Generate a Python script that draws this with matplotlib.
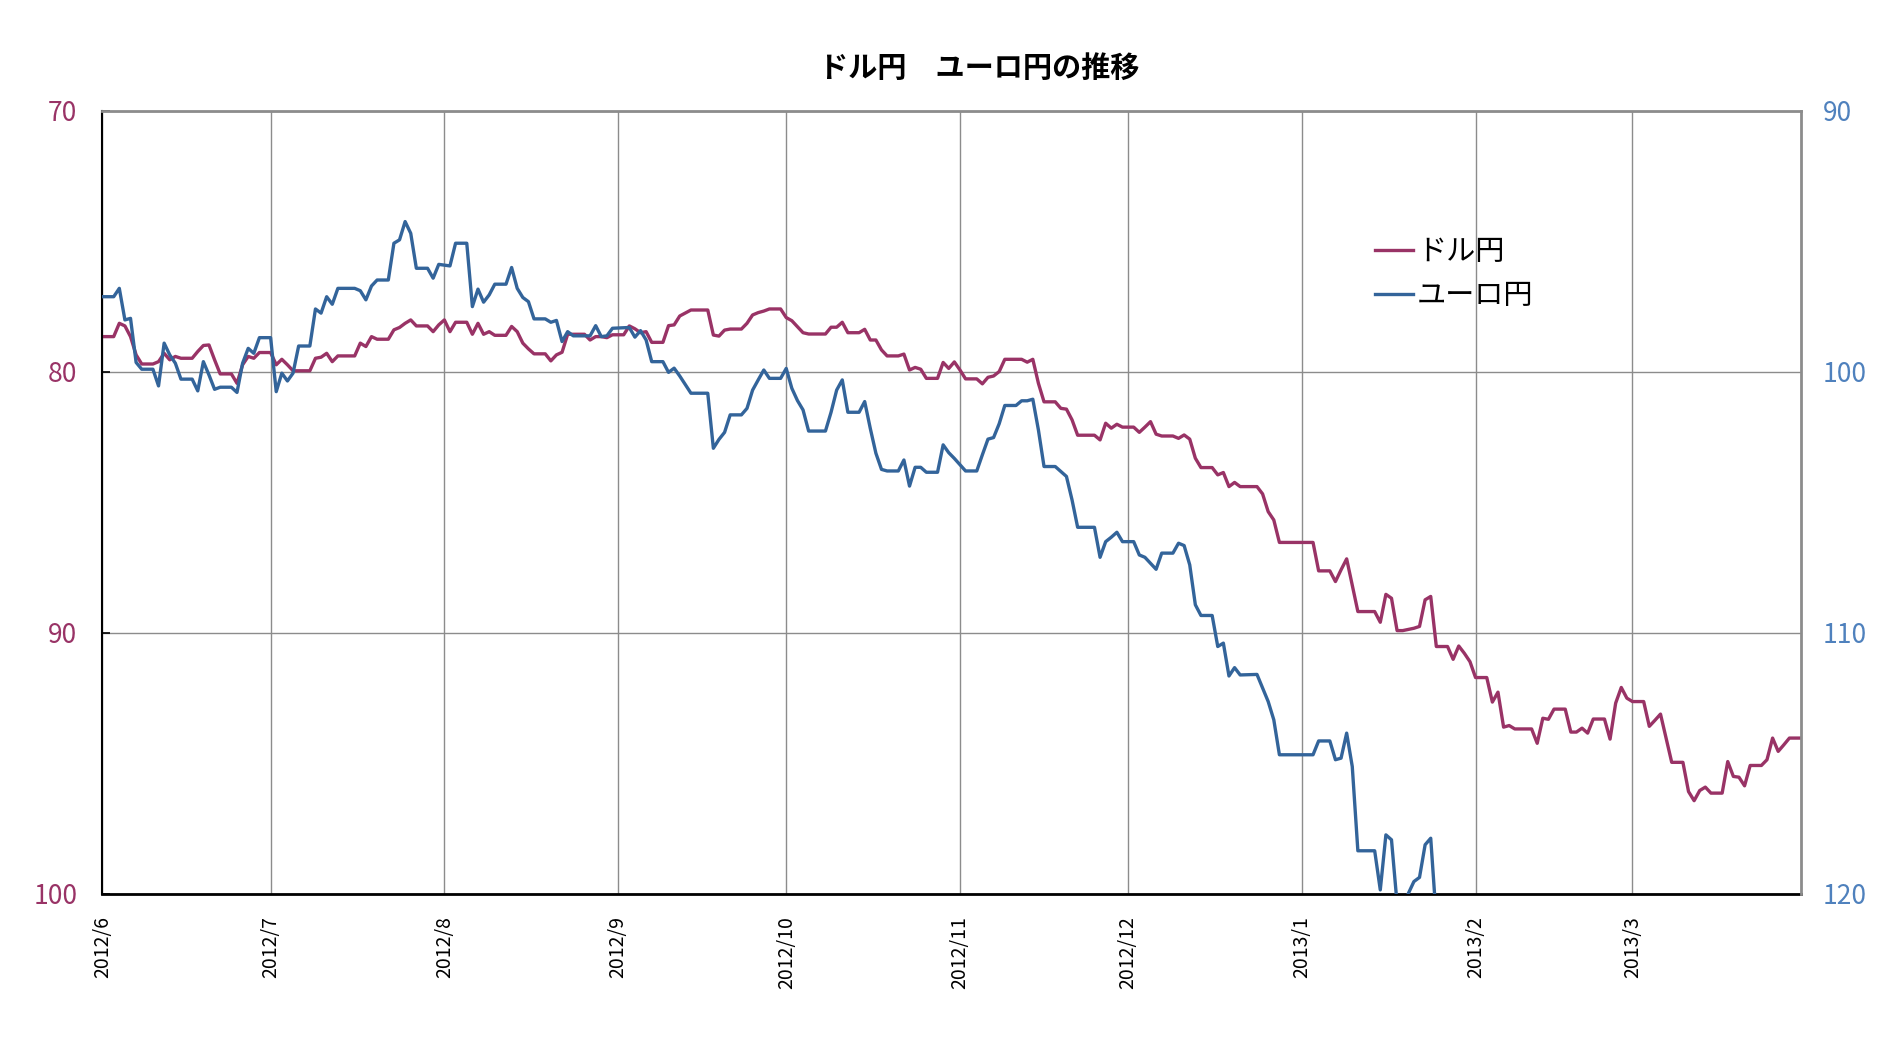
import numpy as np
import matplotlib
matplotlib.use('Agg')
import matplotlib.pyplot as plt

plt.rcParams['font.family'] = ['Noto Sans CJK JP', 'DejaVu Sans']

# --- data (days counted from 2012/6/1) ---
start = np.datetime64('2012-06-01')
end = np.datetime64('2013-03-31')

usd_day = [0, 2, 3, 4, 5, 6, 7, 9, 10, 11, 12, 13, 14, 16, 17, 18, 19, 20, 21, 23,
           24, 25, 26, 27, 28, 30, 31, 32, 33, 34, 37, 38, 39, 40, 41, 42, 45, 46, 47, 48,
           49, 51, 52, 53, 54, 55, 56, 58, 59, 60, 61, 62, 63, 65, 66, 67, 68, 69, 70, 72,
           73, 74, 75, 76, 77, 79, 80, 81, 82, 83, 86, 87, 88, 89, 90, 91, 93, 94, 95, 96,
           97, 98, 100, 101, 102, 103, 105, 108, 109, 110, 111, 112, 114, 115, 116, 117, 118, 119, 121, 122,
           123, 124, 125, 126, 129, 130, 131, 132, 133, 135, 136, 137, 138, 139, 140, 142, 143, 144, 145, 146,
           147, 149, 150, 151, 152, 153, 154, 156, 157, 158, 159, 160, 161, 164, 165, 166, 167, 168, 170, 171,
           172, 173, 174, 177, 178, 179, 180, 181, 182, 184, 185, 186, 187, 188, 189, 191, 192, 193, 194, 195,
           196, 198, 199, 200, 201, 202, 203, 206, 207, 208, 209, 210, 216, 217, 219, 220, 221, 222, 223, 224,
           227, 228, 229, 230, 231, 232, 234, 235, 236, 237, 238, 240, 241, 242, 243, 244, 245, 247, 248, 249,
           250, 251, 252, 255, 256, 257, 258, 259, 261, 262, 263, 264, 265, 266, 268, 269, 270, 271, 272, 273,
           275, 276, 277, 278, 279, 280, 282, 283, 284, 285, 286, 287, 289, 290, 291, 292, 293, 294, 296, 297,
           298, 299, 300, 301, 303]
usd_jpy = [78.65, 78.65, 78.14, 78.24, 78.65, 79.35, 79.70, 79.70, 79.61, 79.29, 79.54, 79.41, 79.48, 79.48, 79.22, 78.99, 78.97, 79.54, 80.08, 80.08,
           80.44, 79.73, 79.41, 79.48, 79.26, 79.26, 79.73, 79.52, 79.73, 79.96, 79.96, 79.48, 79.44, 79.29, 79.61, 79.39, 79.39, 78.90, 79.03, 78.65,
           78.75, 78.75, 78.39, 78.30, 78.14, 78.01, 78.24, 78.24, 78.46, 78.20, 78.01, 78.46, 78.10, 78.10, 78.56, 78.14, 78.56, 78.46, 78.60, 78.60,
           78.26, 78.46, 78.90, 79.12, 79.31, 79.31, 79.58, 79.35, 79.25, 78.56, 78.56, 78.78, 78.65, 78.65, 78.69, 78.58, 78.58, 78.24, 78.35, 78.50,
           78.46, 78.87, 78.87, 78.23, 78.20, 77.86, 77.63, 77.63, 78.59, 78.63, 78.40, 78.36, 78.36, 78.14, 77.82, 77.73, 77.67, 77.59, 77.59, 77.92,
           78.04, 78.27, 78.50, 78.55, 78.55, 78.29, 78.29, 78.10, 78.50, 78.50, 78.37, 78.78, 78.78, 79.16, 79.39, 79.39, 79.32, 79.93, 79.83, 79.90,
           80.25, 80.25, 79.64, 79.87, 79.62, 79.93, 80.27, 80.27, 80.46, 80.21, 80.16, 79.99, 79.52, 79.52, 79.63, 79.52, 80.44, 81.15, 81.15, 81.40,
           81.43, 81.84, 82.43, 82.43, 82.61, 81.97, 82.16, 82.01, 82.12, 82.12, 82.32, 82.12, 81.91, 82.39, 82.46, 82.46, 82.55, 82.42, 82.58, 83.31,
           83.67, 83.67, 83.95, 83.86, 84.40, 84.24, 84.40, 84.40, 84.68, 85.36, 85.68, 86.54, 86.54, 87.63, 87.63, 88.04, 87.59, 87.17, 88.17, 89.19,
           89.19, 89.60, 88.53, 88.68, 89.92, 89.92, 89.83, 89.76, 88.74, 88.61, 90.53, 90.53, 91.02, 90.51, 90.79, 91.11, 91.72, 91.72, 92.66, 92.28,
           93.62, 93.56, 93.69, 93.69, 94.24, 93.28, 93.32, 92.93, 92.93, 93.81, 93.81, 93.66, 93.85, 93.31, 93.31, 94.08, 92.70, 92.10, 92.51, 92.64,
           92.64, 93.59, 93.36, 93.12, 94.04, 94.97, 94.97, 96.09, 96.44, 96.05, 95.92, 96.15, 96.15, 94.94, 95.51, 95.54, 95.87, 95.09, 95.09, 94.87,
           94.04, 94.55, 94.30, 94.04, 94.04]

eur_day = [0, 2, 3, 4, 5, 6, 7, 9, 10, 11, 12, 13, 14, 16, 17, 18, 19, 20, 21, 23,
           24, 25, 26, 27, 28, 30, 31, 32, 33, 34, 35, 37, 38, 39, 40, 41, 42, 45, 46, 47,
           48, 49, 51, 52, 53, 54, 55, 56, 58, 59, 60, 62, 63, 65, 66, 67, 68, 69, 70, 72,
           73, 74, 75, 76, 77, 79, 80, 81, 82, 83, 84, 87, 88, 89, 90, 91, 94, 95, 96, 97,
           98, 100, 101, 102, 103, 105, 108, 109, 110, 111, 112, 114, 115, 116, 117, 118, 119, 121, 122, 123,
           124, 125, 126, 129, 130, 131, 132, 133, 135, 136, 137, 138, 139, 140, 142, 143, 144, 145, 146, 147,
           149, 150, 151, 152, 154, 156, 157, 158, 159, 160, 161, 163, 164, 165, 166, 167, 168, 170, 171, 172,
           173, 174, 177, 178, 179, 180, 181, 182, 184, 185, 186, 188, 189, 191, 192, 193, 194, 195, 196, 198,
           199, 200, 201, 202, 203, 206, 208, 209, 210, 216, 217, 219, 220, 221, 222, 223, 224, 227, 228, 229,
           230, 231, 232, 233, 234, 235, 236, 237, 238]
eur_jpy = [97.12, 97.12, 96.80, 98.01, 97.95, 99.64, 99.90, 99.90, 100.54, 98.90, 99.35, 99.67, 100.28, 100.28, 100.73, 99.61, 100.12, 100.67, 100.59, 100.59,
           100.79, 99.67, 99.10, 99.29, 98.69, 98.69, 100.76, 100.05, 100.35, 100.05, 99.01, 99.01, 97.59, 97.75, 97.12, 97.41, 96.80, 96.80, 96.89, 97.24,
           96.71, 96.48, 96.48, 95.07, 94.94, 94.24, 94.69, 96.03, 96.03, 96.41, 95.88, 95.94, 95.07, 95.07, 97.50, 96.83, 97.33, 97.05, 96.64, 96.64,
           96.00, 96.80, 97.15, 97.31, 97.97, 97.97, 98.10, 98.03, 98.84, 98.46, 98.62, 98.62, 98.23, 98.65, 98.62, 98.33, 98.30, 98.67, 98.42, 98.78,
           99.61, 99.61, 100.02, 99.86, 100.16, 100.82, 100.82, 102.93, 102.59, 102.32, 101.65, 101.65, 101.40, 100.70, 100.31, 99.93, 100.25, 100.25, 99.87, 100.63,
           101.10, 101.46, 102.27, 102.27, 101.55, 100.70, 100.31, 101.55, 101.55, 101.14, 102.17, 103.12, 103.74, 103.80, 103.80, 103.38, 104.38, 103.66, 103.66, 103.85,
           103.85, 102.80, 103.10, 103.32, 103.80, 103.80, 103.18, 102.58, 102.52, 101.99, 101.29, 101.29, 101.11, 101.11, 101.05, 102.23, 103.63, 103.63, 103.82, 104.01,
           104.91, 105.96, 105.96, 107.11, 106.51, 106.34, 106.15, 106.51, 106.51, 107.02, 107.11, 107.57, 106.95, 106.95, 106.57, 106.66, 107.40, 108.93, 109.34, 109.34,
           110.53, 110.40, 111.66, 111.34, 111.62, 111.60, 112.64, 113.34, 114.68, 114.68, 114.15, 114.15, 114.87, 114.81, 113.85, 115.13, 118.36, 118.36, 119.86, 117.75,
           117.94, 120.40, 120.50, 120.00, 119.54, 119.38, 118.13, 117.88, 121.00]

month_ticks = ['2012-06-01', '2012-07-01', '2012-08-01', '2012-09-01', '2012-10-01',
               '2012-11-01', '2012-12-01', '2013-01-01', '2013-02-01', '2013-03-01']
month_labels = ['2012/6', '2012/7', '2012/8', '2012/9', '2012/10',
                '2012/11', '2012/12', '2013/1', '2013/2', '2013/3']

RED = '#993366'
BLUE = '#33649A'
BLUE_LABEL = '#4F81BD'
GRID = '#8C8C8C'

usd_dates = start + np.array(usd_day)
eur_dates = start + np.array(eur_day)

fig = plt.figure(figsize=(18.91, 10.64), dpi=100)
ax = fig.add_axes([0.0542, 0.1602, 0.8980, 0.7355])
ax2 = ax.twinx()

l1, = ax.plot(usd_dates, usd_jpy, color=RED, lw=2.4, label='ドル円')
l2, = ax2.plot(eur_dates, eur_jpy, color=BLUE, lw=2.4, label='ユーロ円')

ax.set_xlim(start, end)
ax.set_ylim(100, 70)
ax2.set_ylim(120, 90)
ax.set_yticks([70, 80, 90, 100])
ax2.set_yticks([90, 100, 110, 120])
ax.set_xticks(np.array(month_ticks, dtype='datetime64[D]'))
ax.set_xticklabels(month_labels, rotation=90)

ax.grid(True, color=GRID, lw=1.0)

ax.tick_params(axis='y', direction='in', length=6, width=1.2, colors='black',
               labelcolor=RED, labelsize=19, pad=18)
ax.tick_params(axis='x', length=0, labelsize=14, pad=16)
ax2.tick_params(axis='y', length=0, labelcolor=BLUE_LABEL, labelsize=19, pad=16)

ax.spines['left'].set_color('black')
ax.spines['left'].set_linewidth(1.5)
ax.spines['bottom'].set_color('black')
ax.spines['bottom'].set_linewidth(2.0)
ax.spines['top'].set_color(GRID)
ax.spines['top'].set_linewidth(2.0)
ax.spines['right'].set_visible(False)
for side in ['left', 'bottom', 'top']:
    ax2.spines[side].set_visible(False)
ax2.spines['right'].set_color(GRID)
ax2.spines['right'].set_linewidth(2.0)

fig.text(0.518, 0.936, 'ドル円　ユーロ円の推移', ha='center', va='center',
         fontsize=21, fontweight='bold')

ax2.legend([l1, l2], ['ドル円', 'ユーロ円'], loc='upper left',
           bbox_to_anchor=(0.727, 0.7775), bbox_transform=fig.transFigure,
           frameon=False, fontsize=21, handlelength=1.3, handletextpad=0.15,
           labelspacing=0.5, borderpad=0, borderaxespad=0)

fig.savefig('out.png', dpi=100)
